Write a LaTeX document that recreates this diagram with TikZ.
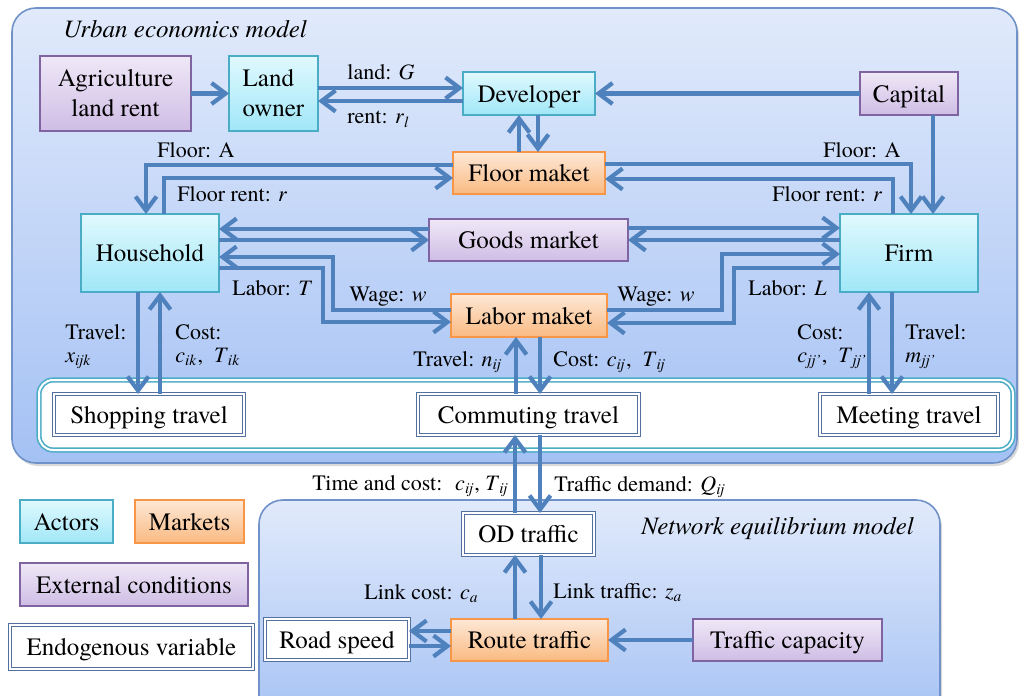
\documentclass[tikz,border=0pt]{standalone}
\usepackage{fontspec}
\setmainfont{texgyretermes}[Extension=.otf,UprightFont=*-regular,ItalicFont=*-italic,BoldFont=*-bold,BoldItalicFont=*-bolditalic]
\usepackage{tikz}
\usetikzlibrary{arrows.meta}
\usetikzlibrary{shadows}

\definecolor{flowblue}{RGB}{79,129,189}
\definecolor{paneltop}{RGB}{225,234,251}
\definecolor{panelbot}{RGB}{164,193,244}
\definecolor{panelline}{RGB}{112,146,200}
\definecolor{actortop}{RGB}{224,249,254}
\definecolor{actorbot}{RGB}{160,231,248}
\definecolor{actorline}{RGB}{75,172,198}
\definecolor{markettop}{RGB}{253,232,214}
\definecolor{marketbot}{RGB}{250,186,130}
\definecolor{marketline}{RGB}{247,150,70}
\definecolor{externtop}{RGB}{239,232,247}
\definecolor{externbot}{RGB}{207,189,229}
\definecolor{externline}{RGB}{128,100,162}
\definecolor{endoline}{RGB}{84,112,160}
\definecolor{stripline}{RGB}{75,172,198}

\newcommand{\isub}[2]{\textit{#1}\textsubscript{\textit{#2}}}

\begin{document}
\begin{tikzpicture}[x=0.5pt,y=-0.5pt,
  box/.style={rectangle,inner sep=0pt,outer sep=0pt,text height=9.2pt,text depth=0.3pt,font=\fontsize{12.5}{15}\selectfont},
  twoline/.style={text height={},text depth={}},
  actor/.style={box,draw=actorline,line width=0.6pt,top color=actortop,bottom color=actorbot},
  market/.style={box,draw=marketline,line width=0.6pt,top color=markettop,bottom color=marketbot},
  extern/.style={box,draw=externline,line width=0.6pt,top color=externtop,bottom color=externbot},
  endo/.style={box,draw=endoline,line width=0.6pt,double=white,double distance=1pt,fill=white},
  panel/.style={top color=paneltop,bottom color=panelbot,draw=panelline,line width=0.8pt,rounded corners=12pt},
  flow/.style={draw=flowblue,line width=2.1pt,-{Straight Barb[length=7pt,width=10.5pt]}},
  lab/.style={anchor=base west,inner sep=0pt,font=\fontsize{11}{13}\selectfont},
  title/.style={anchor=base west,inner sep=0pt,font=\fontsize{12.5}{15}\selectfont\itshape}]

\path[use as bounding box] (0,0) rectangle (1021,695);
\clip (0,0) rectangle (1021,695);

\path[panel,drop shadow={opacity=0.3,shadow xshift=1pt,shadow yshift=-1.5pt}] (12,8) rectangle (1017,463); % urban model
\draw[draw=stripline,line width=0.8pt,double=white,double distance=1pt,fill=white,rounded corners=7pt] (39,380) rectangle (1013,450); % travel band
\path[panel,drop shadow={opacity=0.3,shadow xshift=1pt,shadow yshift=-1.5pt}] (259,500) rectangle (940,730); % network model

\node[title] at (63,38) {Urban economics model};
\node[title] at (641,534) {Network equilibrium model};

% urban economics model
\node[extern,twoline,minimum width=75.5pt,minimum height=37.5pt,align=center] (agri) at (115.5,93.5) {Agriculture\\land rent};
\node[actor,twoline,minimum width=44.5pt,minimum height=37.5pt,align=left] (owner) at (273.5,93.5) {Land\\owner};
\node[actor,minimum width=66pt,minimum height=21.5pt] (dev) at (529,93.5) {Developer};
\node[extern,minimum width=49pt,minimum height=21.5pt] (capital) at (909,93.5) {Capital};
\node[market,minimum width=76pt,minimum height=21pt] (floor) at (529,173) {Floor maket};
\node[extern,minimum width=99.5pt,minimum height=21pt] (goods) at (528.5,240) {Goods market};
\node[market,minimum width=78pt,minimum height=21.5pt] (labor) at (529,315.5) {Labor maket};
\node[actor,minimum width=69pt,minimum height=39pt] (house) at (150,253) {Household};
\node[actor,minimum width=69pt,minimum height=39pt] (firm) at (909,253) {Firm};

% travel
\node[endo,minimum width=95pt,minimum height=20.5pt] (shop) at (149,414.5) {Shopping travel};
\node[endo,minimum width=110.5pt,minimum height=20.5pt] (commute) at (528.5,414.5) {Commuting travel};
\node[endo,minimum width=89pt,minimum height=20.5pt] (meet) at (909,414.5) {Meeting travel};

% network equilibrium model
\node[endo,minimum width=65.5pt,minimum height=21pt] (od) at (528.5,534) {OD traffic};
\node[endo,minimum width=72pt,minimum height=20.5pt] (road) at (337,639.5) {Road speed};
\node[market,minimum width=78.5pt,minimum height=21pt] (route) at (529.5,640) {Route traffic};
\node[extern,minimum width=94.5pt,minimum height=21pt] (cap) at (787.5,640) {Traffic capacity};

% legend
\node[actor,minimum width=46.5pt,minimum height=21.5pt] (keyactor) at (66.5,521.5) {Actors};
\node[market,minimum width=54.5pt,minimum height=21.5pt] (keymarket) at (189.5,521.5) {Markets};
\node[extern,minimum width=114pt,minimum height=21.5pt] (keyextern) at (134,584.5) {External conditions};
\node[endo,minimum width=121.5pt,minimum height=22pt] (keyendo) at (131.5,647) {Endogenous variable};

\draw[flow] (agri) -- (owner);                                   % land rent
\draw[flow] (owner.east |- 0,88) -- (dev.west |- 0,88);           % land
\draw[flow] (dev.west |- 0,101) -- (owner.east |- 0,101);         % rent
\draw[flow] (capital) -- (dev);
\draw[flow] (capital.south -| 933,0) -- (firm.north -| 933,0);
\draw[flow] (floor.north -| 519,0) -- (dev.south -| 519,0);
\draw[flow] (dev.south -| 538,0) -- (floor.north -| 538,0);

\draw[flow] (floor.west |- 0,165) -| (house.north -| 146,0);      % floor left
\draw[flow] (house.north -| 164,0) |- (floor.west |- 0,178);      % floor rent left
\draw[flow] (floor.east |- 0,164) -| (firm.north -| 911,0);       % floor right
\draw[flow] (firm.north -| 893,0) |- (floor.east |- 0,179);       % floor rent right

\draw[flow] (goods.west |- 0,229) -- (house.east |- 0,229);       % goods
\draw[flow] (house.east |- 0,240) -- (goods.west |- 0,240);
\draw[flow] (goods.east |- 0,228) -- (firm.west |- 0,228);
\draw[flow] (firm.west |- 0,240) -- (goods.east |- 0,240);

\draw[flow] (labor.west |- 0,310) -| (333,257) -- (house.east |- 0,257);  % wage left
\draw[flow] (house.east |- 0,268) -| (323,322) -- (labor.west |- 0,322);  % labor left
\draw[flow] (labor.east |- 0,310) -| (722,254) -- (firm.west |- 0,254);   % wage right
\draw[flow] (firm.west |- 0,268) -| (734,323) -- (labor.east |- 0,323);   % labor right

\draw[flow] (house.south -| 138,0) -- (shop.north -| 138,0);      % shopping
\draw[flow] (shop.north -| 160,0) -- (house.south -| 160,0);
\draw[flow] (commute.north -| 516,0) -- (labor.south -| 516,0);   % commuting
\draw[flow] (labor.south -| 540,0) -- (commute.north -| 540,0);
\draw[flow] (meet.north -| 869,0) -- (firm.south -| 869,0);       % meeting
\draw[flow] (firm.south -| 892,0) -- (meet.north -| 892,0);

\draw[flow] (od.north -| 515,0) -- (commute.south -| 515,0);      % od traffic
\draw[flow] (commute.south -| 540,0) -- (od.north -| 540,0);
\draw[flow] (route.north -| 515,0) -- (od.south -| 515,0);
\draw[flow] (od.south -| 541,0) -- (route.north -| 541,0);
\draw[flow] (route.west |- 0,631) -- (road.east |- 0,631);        % road speed
\draw[flow] (road.east |- 0,646) -- (route.west |- 0,646);
\draw[flow] (cap) -- (route);                                     % capacity

% labels
\node[lab] at (347,80) {land: \textit{G}};
\node[lab] at (347,124) {rent: \isub{r}{l}};
\node[lab] at (157,158) {Floor: A};
\node[lab] at (177,202) {Floor rent: \textit{r}};
\node[lab] at (823,158) {Floor: A};
\node[lab] at (772,202) {Floor rent: \textit{r}};
\node[lab] at (232,295) {Labor: \textit{T}};
\node[lab] at (349,301) {Wage: \textit{w}};
\node[lab] at (617,301) {Wage: \textit{w}};
\node[lab] at (748,295) {Labor: \textit{L}};
\node[lab] at (65,339) {Travel:};
\node[lab] at (65,362) {\isub{x}{ijk}};
\node[lab] at (175,339) {Cost:};
\node[lab] at (175,362) {\isub{c}{ik}, \ \isub{T}{ik}};
\node[lab] at (413,366) {Travel: \isub{n}{ij}};
\node[lab] at (553,366) {Cost: \isub{c}{ij}, \ \isub{T}{ij}};
\node[lab] at (797,339) {Cost:};
\node[lab] at (797,362) {\isub{c}{jj'}, \ \isub{T}{jj'}};
\node[lab] at (905,339) {Travel:};
\node[lab] at (905,362) {\isub{m}{jj'}};
\node[lab] at (312,490) {Time and cost: \ \isub{c}{ij}, \isub{T}{ij}};
\node[lab] at (554,491) {Traffic demand: \isub{Q}{ij}};
\node[lab] at (364,599) {Link cost: \isub{c}{a}};
\node[lab] at (553,598) {Link traffic: \isub{z}{a}};

\end{tikzpicture}
\end{document}
